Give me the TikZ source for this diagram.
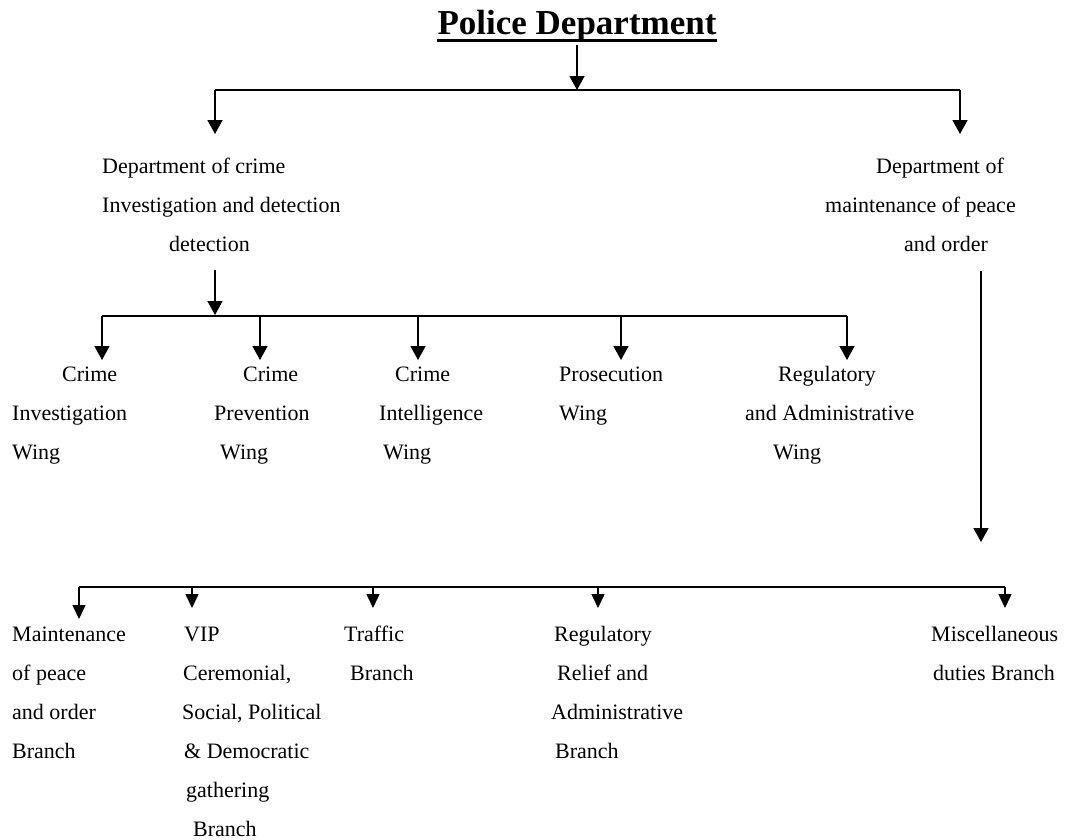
\documentclass[tikz,border=0pt]{standalone}
\usepackage{fontspec}
\setmainfont{Liberation Serif}
\usetikzlibrary{arrows.meta}

\tikzset{
  lbl/.style={anchor=base west, align=left, inner sep=0pt,
    font=\fontsize{22}{39}\selectfont},
  bar/.style={line width=1.5pt},
  arr/.style={line width=1.5pt, -{Triangle[length=14pt,width=15pt]}},
  arrsmall/.style={line width=1.5pt, -{Triangle[length=14pt,width=13pt]}},
}

\begin{document}
\begin{tikzpicture}[x=1pt,y=-1pt]
\useasboundingbox (0,0) rectangle (1066,839);

  % Title
  \node[anchor=base, inner xsep=0pt, inner ysep=3pt,
        font=\fontsize{35}{40}\selectfont\bfseries] (title) at (577,34) {Police Department};
  \draw[line width=3pt] ([yshift=-6pt]title.base west) -- ([yshift=-6pt]title.base east);

  % Departments (placed at the baseline of the last line)
  \node[lbl] (dcrime) at (102,251) {Department of crime\\Investigation and detection\\\hspace*{67pt}detection};
  \node[lbl] (dpeace) at (825,251) {\hspace*{51pt}Department of\\maintenance of peace\\\hspace*{79pt}and order};

  % Wings
  \node[lbl] (wciw) at (12,459)  {\hspace*{50pt}Crime\\Investigation\\Wing};
  \node[lbl] (wcpw) at (214,459) {\hspace*{29pt}Crime\\Prevention\\\hspace*{6pt}Wing};
  \node[lbl] (wint) at (379,459) {\hspace*{16pt}Crime\\Intelligence\\\hspace*{4pt}Wing};
  \node[lbl] (wpro) at (559,420) {Prosecution\\Wing};
  \node[lbl] (wreg) at (745,459) {\hspace*{33pt}Regulatory\\and Administrative\\\hspace*{28pt}Wing};

  % Branches
  \node[lbl] (bmpo) at (12,758)  {Maintenance\\of peace\\and order\\Branch};
  \node[lbl] (bvip) at (182,836) {\hspace*{2pt}VIP\\\hspace*{1pt}Ceremonial,\\Social, Political\\\hspace*{2pt}\& Democratic\\\hspace*{4pt}gathering\\\hspace*{11pt}Branch};
  \node[lbl] (btra) at (344,680) {Traffic\\\hspace*{6pt}Branch};
  \node[lbl] (breg) at (551,758) {\hspace*{3pt}Regulatory\\\hspace*{6pt}Relief and\\Administrative\\\hspace*{4pt}Branch};
  \node[lbl] (bmis) at (931,680) {Miscellaneous\\\hspace*{2pt}duties Branch};

  % Junctions and arrow ends
  \coordinate (hub1) at (577,90);
  \coordinate (hub2) at (215,316);
  \coordinate (hub3) at (79,587);
  \coordinate (dcrime-in)  at (215,134);
  \coordinate (dpeace-in)  at (960,134);
  \coordinate (dcrime-out) at (215,270);
  \coordinate (dpeace-out) at (981,271);
  \coordinate (dpeace-end) at (981,542);

  % Top level
  \draw[arr] (title.south) -- (hub1);
  \draw[bar] (dcrime-in |- hub1) -- (dpeace-in |- hub1);
  \draw[arr] (dcrime-in |- hub1) -- (dcrime-in);
  \draw[arr] (dpeace-in |- hub1) -- (dpeace-in);

  % Crime department to wings
  \draw[arr] (dcrime-out) -- ([yshift=1pt]hub2);
  \draw[bar] (102,316) -- (847,316);
  \foreach \w/\x in {wciw/102, wcpw/260, wint/418, wpro/621, wreg/847} {
    \coordinate (\w-in) at (\x,360);
    \draw[arr] (\w-in |- hub2) -- (\w-in);
  }

  % Peace department to branches
  \draw[arr] (dpeace-out) -- (dpeace-end);
  \draw[bar] (hub3) -- (1005,587);
  \foreach \b/\x/\y in {bmpo/79/619, bvip/192/608, btra/373/608, breg/598/608, bmis/1005/608} {
    \coordinate (\b-in) at (\x,\y);
    \draw[arrsmall] (\b-in |- hub3) -- (\b-in);
  }

\end{tikzpicture}
\end{document}
